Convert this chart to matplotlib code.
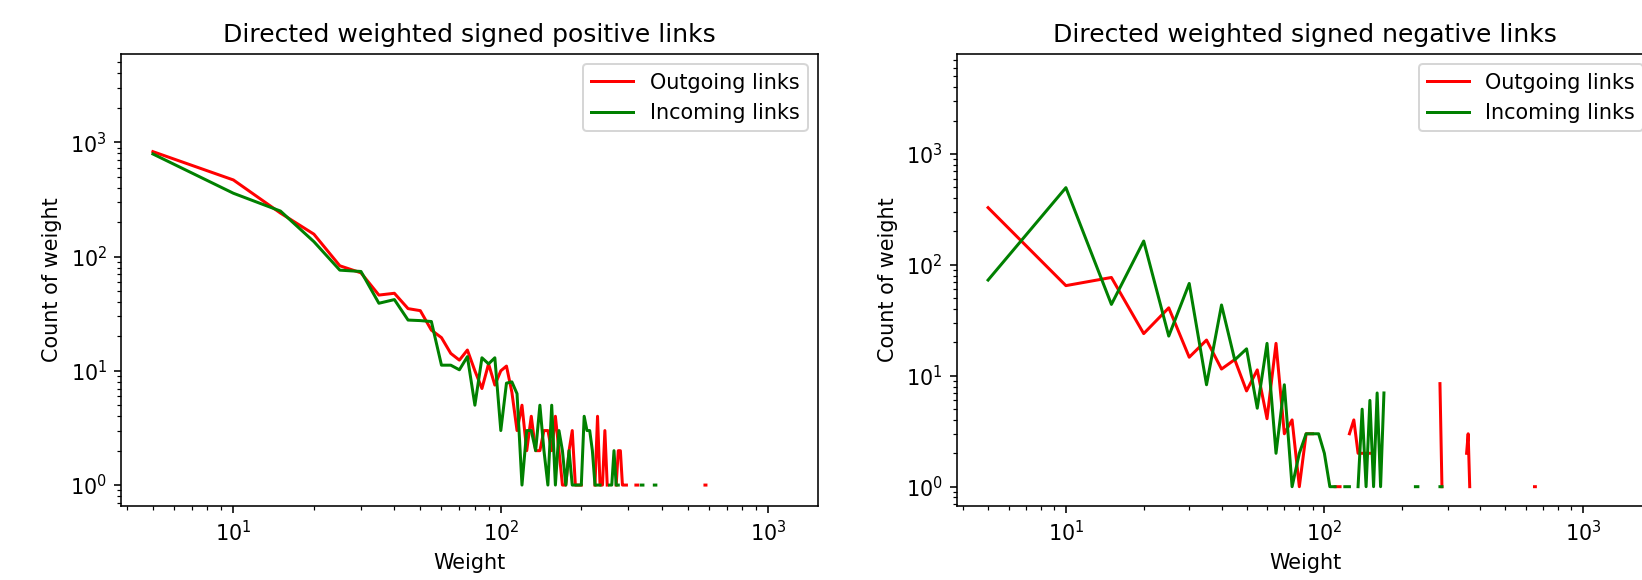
import numpy as np
import matplotlib
matplotlib.use('Agg')
import matplotlib.pyplot as plt

plt.rcParams['font.size'] = 10.4

nan = np.nan

# positive links: weight -> count (nan marks a gap in the line)
pos_out_w = [5,10,15,20,25,30,35,40,45,50,55,60,65,70,75,80,85,90,95,100,
             105,110,115,120,125,130,135,140,145,150,155,160,165,170,175,180,185,190,195,200,
             205,225,230,235,240,245,250,255,270,275,280,285,290,295,300,320,325,330,580,585]
pos_out_c = [828,468,240,157,83,72,46,47.7,35,33.6,22.7,19.5,14.2,12.4,15.2,10,7,11.5,7.5,10,
             11,6.5,3,5,2,4,2,2,3,3,2,4,2,1,1,2,3,1,1,1,
             nan,1,4,1,1,3,1,nan,1,2,2,1,1,1,nan,1,1,nan,1,1]
pos_in_w = [5,10,15,20,25,30,35,40,45,50,55,60,65,70,75,80,85,90,95,100,
            105,110,115,120,125,130,135,140,145,150,155,160,165,170,175,180,185,190,195,200,
            205,210,215,220,225,230,235,240,255,260,265,270,275,280,335,340,345,375,380]
pos_in_c = [790,358,250,135,76,74,39,42,27.8,27.5,27,11.2,11.2,10.2,13.3,5,13,11.5,13,3,
            7.8,8,6.3,1,3,3,2,5,2,1,5,1,3,2,1,2,1,1,1,1,
            4,3,3,2,1,1,1,nan,1,1,2,1,1,nan,1,1,nan,1,1]

# negative links
neg_out_w = [5,10,15,20,25,30,35,40,45,50,55,60,65,70,75,80,85,90,95,
             110,115,120,125,130,135,140,145,150,155,280,285,290,355,360,365,370,650,655]
neg_out_c = [328,65,77,24,41,14.7,21,11.5,14,7.3,11.3,4.1,19.6,3,4,1,3,3,nan,
             1,1,nan,3,4,2,2,2,2,nan,8.5,1,nan,2,3,1,nan,1,1]
neg_in_w = [5,10,15,20,25,30,35,40,45,50,55,60,65,70,75,80,85,90,95,100,
            105,110,115,120,125,130,135,140,145,150,155,160,165,170,175,225,230,235,280,285]
neg_in_c = [73,497,44,164,22.8,68,8.3,43.5,13.9,17.5,5.1,19.6,2,8.3,1,2,3,3,3,2,
            1,1,nan,1,1,nan,1,5,1,6,1,7,1,7,nan,1,1,nan,1,1]

titles = ['Directed weighted signed positive links', 'Directed weighted signed negative links']

fig, axs = plt.subplots(1, 2, figsize=(1642/144, 580/144), dpi=144)
fig.subplots_adjust(left=0.0737, right=1.0071, bottom=0.128, top=0.907, wspace=0.199)

panels = [(pos_out_w, pos_out_c, pos_in_w, pos_in_c, (3.80, 1535), (0.659, 5930)),
          (neg_out_w, neg_out_c, neg_in_w, neg_in_c, (3.78, 1879), (0.673, 7980))]

for ax, title, (ow, oc, iw, ic, xl, yl) in zip(axs, titles, panels):
    ax.loglog(ow, oc, color='red', label='Outgoing links')
    ax.loglog(iw, ic, color='green', label='Incoming links')
    ax.set_xlim(xl)
    ax.set_ylim(yl)
    ax.set_title(title)
    ax.set_xlabel('Weight')
    ax.set_ylabel('Count of weight')
    ax.legend(loc='upper right')

fig.savefig('out.png', dpi=144)
